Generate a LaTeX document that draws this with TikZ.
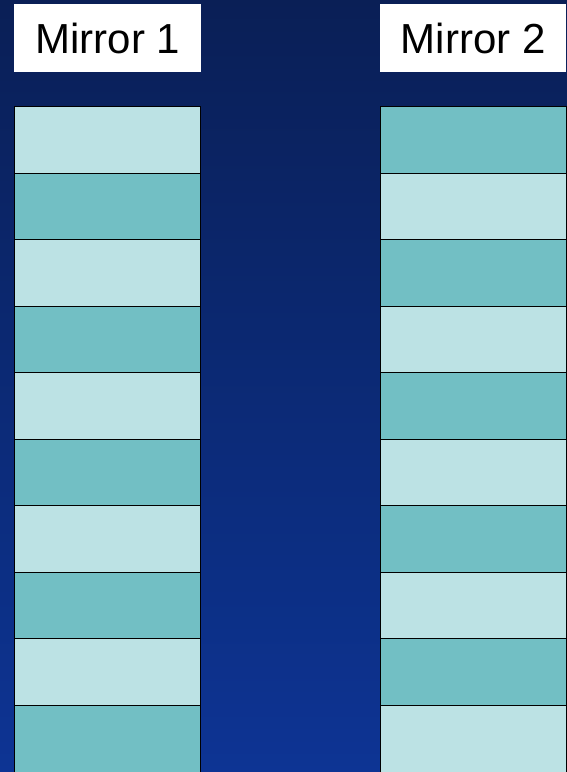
\documentclass[tikz,border=0pt]{standalone}
\usepackage{fontspec}
\setmainfont{Liberation Sans}
\usetikzlibrary{positioning}
\definecolor{MirrorLight}{RGB}{188,226,228}
\definecolor{MirrorDark}{RGB}{114,191,196}
\definecolor{BgTop}{RGB}{10,31,86}
\definecolor{BgBottom}{RGB}{13,52,148}

\begin{document}
\begin{tikzpicture}[
    x=1pt, y=-1pt,
    font=\fontsize{42}{46}\selectfont,
    title/.style={
        fill=white,
        inner sep=0pt,
        minimum width=187pt,
        minimum height=68pt,
        anchor=north west
    },
    cell/.style={
        draw=black,
        line width=1.4pt,
        inner sep=0pt,
        minimum width=186pt,
        anchor=north west
    },
    lightcell/.style={cell, fill=MirrorLight},
    darkcell/.style={cell, fill=MirrorDark}
]

\useasboundingbox (0,0) rectangle (567,772);
\shade[top color=BgTop, bottom color=BgBottom] (0,0) rectangle (567,772);

\node[title] (mirrorA) at (14,4) {Mirror 1};
\node[title, minimum width=186pt] (mirrorB) at (380,4) {Mirror 2};

% stacks of layers, alternating
\foreach \i in {1,...,10} {
    \pgfmathsetmacro{\ytop}{106+(\i-1)*66.5}
    \pgfmathsetmacro{\hgt}{\i==10 ? 74 : 66.5}
    \ifodd\i
        \node[lightcell, minimum height=\hgt pt] (layerA\i) at (14,\ytop) {};
        \node[darkcell, minimum height=\hgt pt] (layerB\i) at (380,\ytop) {};
    \else
        \node[darkcell, minimum height=\hgt pt] (layerA\i) at (14,\ytop) {};
        \node[lightcell, minimum height=\hgt pt] (layerB\i) at (380,\ytop) {};
    \fi
}

\end{tikzpicture}
\end{document}
